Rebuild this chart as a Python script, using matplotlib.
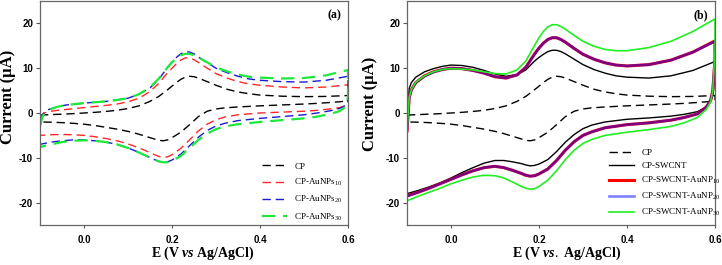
import matplotlib
matplotlib.use("Agg")
import matplotlib.pyplot as plt

plt.rcParams['mathtext.fontset'] = 'custom'
plt.rcParams['mathtext.rm'] = 'Liberation Serif'
plt.rcParams['mathtext.it'] = 'Liberation Serif:italic:bold'
plt.rcParams['mathtext.bf'] = 'Liberation Serif:bold'

# ---------------- data ----------------
E_fwd = [-0.1, -0.095, -0.09, -0.08, -0.06, -0.04, -0.02, 0.0, 0.025, 0.05, 0.075, 0.1,
         0.125, 0.15, 0.17, 0.19, 0.2, 0.21, 0.22, 0.23, 0.24, 0.25, 0.26, 0.28, 0.3,
         0.325, 0.35, 0.375, 0.4, 0.45, 0.5, 0.55, 0.6]
E_rev = [0.6, 0.595, 0.59, 0.58, 0.56, 0.53, 0.5, 0.45, 0.4, 0.35, 0.32, 0.3, 0.28, 0.26,
         0.24, 0.22, 0.2, 0.19, 0.18, 0.17, 0.16, 0.14, 0.12, 0.1, 0.075, 0.05, 0.025, 0.0,
         -0.025, -0.05, -0.075, -0.1]

# Panel (a)
cp_up = [-0.5, -0.45, -0.42, -0.38, -0.3, -0.22, -0.12, 0.0, 0.15, 0.35, 0.6, 1.0,
         1.6, 2.6, 3.7, 5.2, 6.0, 6.8, 7.5, 8.0, 8.2, 8.1, 7.8, 7.0, 6.2,
         5.3, 4.7, 4.3, 4.0, 3.75, 3.65, 3.7, 3.9]
cp_dn = [2.9, 2.7, 2.6, 2.5, 2.35, 2.15, 2.0, 1.8, 1.6, 1.35, 1.15, 0.9, 0.4, -0.8,
         -2.6, -4.3, -5.5, -6.0, -6.2, -6.1, -5.8, -5.2, -4.6, -4.1, -3.6, -3.2, -2.8, -2.5,
         -2.3, -2.15, -2.05, -2.0]

au10_up = [-1.0, -0.3, 0.0, 0.3, 0.6, 0.8, 1.0, 1.2, 1.45, 1.7, 2.0, 2.5,
           3.3, 4.8, 6.6, 9.0, 10.0, 11.0, 11.8, 12.3, 12.3, 11.9, 11.3, 10.0, 8.8,
           7.8, 7.0, 6.5, 6.2, 5.8, 5.6, 5.8, 6.3]
au10_dn = [2.5, 1.8, 1.5, 1.2, 0.9, 0.6, 0.4, 0.2, 0.0, -0.4, -0.9, -1.5, -2.5, -4.0,
           -6.0, -7.9, -9.3, -9.8, -9.9, -9.7, -9.3, -8.4, -7.6, -6.9, -6.2, -5.7, -5.3, -5.0,
           -4.85, -4.8, -4.85, -5.0]

au20_up = [-1.5, -0.5, 0.2, 0.8, 1.4, 1.8, 2.0, 2.2, 2.4, 2.6, 2.9, 3.3,
           4.2, 5.6, 7.5, 10.2, 11.4, 12.4, 13.2, 13.7, 13.6, 13.2, 12.5, 11.2, 10.0,
           9.0, 8.2, 7.6, 7.3, 7.0, 6.9, 7.3, 8.2]
au20_dn = [3.0, 2.0, 1.4, 1.0, 0.5, 0.0, -0.4, -0.8, -1.2, -1.7, -2.3, -2.9, -3.9, -5.4,
           -7.3, -9.2, -10.5, -10.9, -11.0, -10.8, -10.4, -9.5, -8.6, -7.8, -7.0, -6.5, -6.2, -6.0,
           -6.0, -6.2, -6.5, -7.0]

au30_up = [-3.0, -1.0, 0.0, 0.7, 1.4, 1.8, 2.0, 2.2, 2.4, 2.6, 2.9, 3.3,
           4.2, 5.7, 7.7, 10.2, 11.3, 12.2, 12.9, 13.2, 13.2, 12.9, 12.4, 11.3, 10.2,
           9.3, 8.6, 8.1, 7.9, 7.7, 7.8, 8.4, 9.6]
au30_dn = [3.5, 2.0, 1.0, 0.4, -0.2, -0.8, -1.2, -1.6, -2.0, -2.5, -3.0, -3.6, -4.6, -6.0,
           -7.8, -9.6, -10.7, -11.0, -11.0, -10.8, -10.4, -9.5, -8.6, -7.8, -7.0, -6.5, -6.2, -6.1,
           -6.2, -6.5, -7.0, -7.6]

# Panel (b)
sw_up = [-3.0, 5.5, 6.8, 8.0, 9.2, 9.9, 10.4, 10.7, 10.6, 10.2, 9.5, 8.7,
         8.2, 8.6, 9.6, 11.6, 12.4, 13.1, 13.7, 14.0, 14.0, 13.7, 13.2, 12.0, 10.8,
         9.7, 8.9, 8.3, 8.0, 7.8, 8.3, 9.5, 11.5]
sw_dn = [8.0, 4.0, 2.5, 1.3, 0.3, -0.3, -0.7, -1.1, -1.4, -2.0, -2.7, -3.5, -4.8, -6.5,
         -8.6, -10.4, -11.4, -11.7, -11.8, -11.6, -11.3, -10.9, -10.6, -10.6, -11.2, -12.2, -13.3, -14.5,
         -15.6, -16.5, -17.3, -18.0]

sa10_up = [-4.0, 3.5, 5.2, 6.8, 8.3, 9.2, 9.7, 10.0, 9.9, 9.5, 8.9, 8.1,
           7.8, 8.5, 10.2, 13.2, 14.5, 15.6, 16.4, 16.8, 16.8, 16.4, 15.8, 14.4, 13.1,
           12.0, 11.2, 10.7, 10.5, 10.8, 11.8, 13.6, 16.1]
sa10_dn = [12.0, 5.0, 2.8, 1.3, -0.2, -1.0, -1.6, -2.2, -2.6, -3.3, -4.2, -5.0, -6.4, -8.3,
           -10.6, -12.5, -13.6, -14.0, -14.1, -13.9, -13.5, -12.8, -12.2, -11.9, -12.2, -12.9, -13.8, -14.8,
           -15.8, -16.8, -17.7, -18.5]

sa20_up = [-4.0, 3.4, 5.1, 6.8, 8.2, 9.1, 9.7, 10.0, 9.9, 9.5, 8.9, 8.1,
           7.8, 8.5, 10.2, 13.1, 14.5, 15.6, 16.4, 16.8, 16.8, 16.4, 15.8, 14.4, 13.1,
           12.0, 11.2, 10.7, 10.5, 10.8, 11.8, 13.6, 16.0]
sa20_dn = [12.0, 5.0, 2.8, 1.3, -0.2, -1.0, -1.6, -2.2, -2.6, -3.3, -4.2, -5.0, -6.4, -8.3,
           -10.6, -12.5, -13.6, -14.0, -14.1, -13.9, -13.5, -12.8, -12.2, -11.9, -12.2, -12.9, -13.8, -14.8,
           -15.8, -16.8, -17.7, -18.6]

sa30_up = [-4.0, 3.5, 5.2, 6.9, 8.3, 9.2, 9.7, 9.9, 9.8, 9.6, 9.2, 8.8,
           8.7, 9.6, 11.6, 15.1, 16.8, 18.2, 19.2, 19.7, 19.7, 19.3, 18.7, 17.3, 16.0,
           14.9, 14.2, 13.9, 13.9, 14.6, 16.0, 18.2, 21.0]
sa30_dn = [14.0, 5.0, 2.5, 0.8, -1.0, -2.2, -3.0, -3.7, -4.3, -5.0, -5.9, -6.8, -8.3, -10.4,
           -12.9, -15.0, -16.4, -16.9, -17.0, -16.8, -16.4, -15.4, -14.5, -14.0, -13.9, -14.3, -15.0, -15.8,
           -16.8, -17.7, -18.6, -19.6]

labels_a = ["CP", r"CP-AuNPs$_{\mathrm{10}}$", r"CP-AuNPs$_{\mathrm{20}}$", r"CP-AuNPs$_{\mathrm{30}}$"]
labels_b = ["CP", "CP-SWCNT", r"CP-SWCNT-AuNP$_{\mathrm{10}}$",
            r"CP-SWCNT-AuNP$_{\mathrm{20}}$", r"CP-SWCNT-AuNP$_{\mathrm{30}}$"]
xticks = [0.0, 0.2, 0.4, 0.6]
yticks = [-20, -10, 0, 10, 20]

GREEN = '#1ee83c'
GREEN_B = '#22ee22'

fig = plt.figure(figsize=(7.22, 2.65), dpi=100)
axa = fig.add_axes([40/722, 1-225/265, 308/722, 224/265])
axb = fig.add_axes([407/722, 1-225/265, 308/722, 224/265])


def cv(ax, up, dn, **kw):
    ax.plot(E_fwd + E_rev, up + dn, **kw)


dash = (0, (6, 3.5))
cv(axa, cp_up, cp_dn, color='black', lw=1.0, ls=dash, label=labels_a[0])
cv(axa, au10_up, au10_dn, color='#ff2828', lw=1.0, ls=dash, label=labels_a[1])
cv(axa, au20_up, au20_dn, color='#1a1ad0', lw=1.0, ls=dash, label=labels_a[2])
cv(axa, au30_up, au30_dn, color=GREEN, lw=1.6, ls=dash, label=labels_a[3])

cv(axb, cp_up, cp_dn, color='black', lw=1.0, ls=dash, label=labels_b[0])
cv(axb, sw_up, sw_dn, color='black', lw=1.0, label=labels_b[1])
cv(axb, sa10_up, sa10_dn, color='#ff0000', lw=2.2, label=labels_b[2])
cv(axb, sa20_up, sa20_dn, color='#0000ff', lw=1.9, alpha=0.5, label=labels_b[3])
cv(axb, sa30_up, sa30_dn, color=GREEN_B, lw=1.2, label=labels_b[4])

for ax, lab, ylx, yly in ((axa, '(a)', -0.105, 0.571), (axb, '(b)', -0.12, 0.54)):
    ax.set_xlim(-0.1, 0.6)
    ax.set_ylim(-25, 25)
    ax.set_xticks(xticks)
    ax.set_xticklabels(['%.1f' % v for v in xticks])
    ax.set_yticks(yticks)
    ax.set_yticklabels([str(v) for v in yticks])
    ax.tick_params(axis='x', direction='out', length=2, width=0.8, pad=5, colors='#555555',
                   labelcolor='black')
    ax.tick_params(axis='y', direction='out', length=3, width=0.8, pad=2, colors='#555555',
                   labelcolor='black')
    for t in ax.get_xticklabels() + ax.get_yticklabels():
        t.set_fontfamily('Liberation Sans')
        t.set_fontweight('bold')
        t.set_fontsize(7)
    for s in ax.spines.values():
        s.set_color('#666666')
        s.set_linewidth(0.9)
    ax.set_ylabel('Current (μA)', fontfamily='Liberation Serif', fontweight='bold',
                  fontsize=12, va='center')
    ax.yaxis.set_label_coords(ylx, yly)
    ax.text(0.955, 0.935, lab, transform=ax.transAxes, ha='center', va='center',
            fontfamily='Liberation Serif', fontweight='bold', fontsize=8.5)

axa.set_xlabel(r'E (V $\mathit{vs}$ Ag/AgCl)', fontfamily='Liberation Serif',
               fontweight='bold', fontsize=10, va='center')
axb.set_xlabel(r'E (V $\mathit{vs.}$ Ag/AgCl)', fontfamily='Liberation Serif',
               fontweight='bold', fontsize=10, va='center')
axa.xaxis.set_label_coords(0.529, -0.125)
axb.xaxis.set_label_coords(0.519, -0.125)

leg_kw = dict(frameon=False, borderpad=0, handletextpad=0.8, handlelength=2.8,
              prop={'family': 'Liberation Serif', 'size': 6.5})
axa.legend(loc='upper left', bbox_to_anchor=(0.705, 0.30), labelspacing=0.68, **leg_kw)
axb.legend(loc='upper left', bbox_to_anchor=(0.64, 0.36), labelspacing=0.52, **leg_kw)

fig.savefig('out.png', dpi=100)
